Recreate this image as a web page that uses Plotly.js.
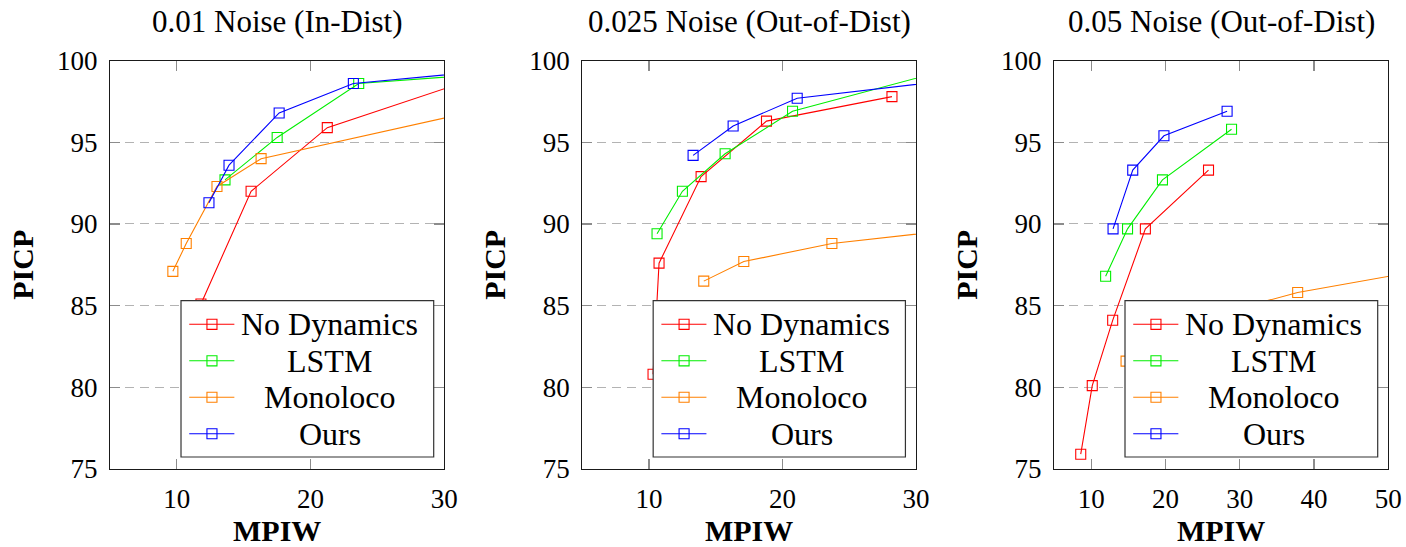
<!DOCTYPE html>
<html>
<head>
<meta charset="utf-8">
<script src="https://cdn.plot.ly/plotly-3.0.1.min.js"></script>
<style>
  html, body { margin: 0; padding: 0; background: #ffffff; }
  #chart { width: 1406px; height: 547px; }
</style>
</head>
<body>
<div id="chart"></div>
<script>
// Panel titles, series names and axis ticks
const panelTitles = ['0.01 Noise (In-Dist)', '0.025 Noise (Out-of-Dist)', '0.05 Noise (Out-of-Dist)'];
const seriesNames = ['No Dynamics', 'LSTM', 'Monoloco', 'Ours'];
const xTicksNarrow = [10, 20, 30];
const xTicksWide = [10, 20, 30, 40, 50];
const yTicks = [75, 80, 85, 90, 95, 100];

// Panel 1: 0.01 noise (MPIW, PICP)
const noDyn1X = [11.8, 15.55, 21.25, 33.0];
const noDyn1Y = [85.1, 92.0, 95.9, 99.1];
const lstm1X = [13.6, 17.5, 23.6, 40.0];
const lstm1Y = [92.7, 95.3, 98.6, 99.6];
const mono1X = [9.7, 10.7, 13.0, 16.3, 40.0];
const mono1Y = [87.1, 88.8, 92.3, 94.0, 98.3];
const ours1X = [12.4, 13.9, 17.65, 23.2, 40.0];
const ours1Y = [91.3, 93.6, 96.8, 98.6, 99.9];

// Panel 2: 0.025 noise
const noDyn2X = [10.3, 10.75, 13.9, 18.8, 28.2];
const noDyn2Y = [80.8, 87.6, 92.9, 96.3, 97.8];
const lstm2X = [10.6, 12.5, 15.7, 20.75, 34.0];
const lstm2Y = [89.4, 92.0, 94.3, 96.9, 99.8];
const mono2X = [14.1, 17.1, 23.7, 40.0];
const mono2Y = [86.5, 87.7, 88.8, 90.3];
const ours2X = [13.3, 16.3, 21.1, 40.0];
const ours2Y = [94.2, 96.0, 97.7, 99.5];

// Panel 3: 0.05 noise
const noDyn3X = [8.6, 10.15, 12.9, 17.3, 25.8];
const noDyn3Y = [75.9, 80.1, 84.1, 89.7, 93.3];
const lstm3X = [11.95, 14.9, 19.6, 28.9];
const lstm3Y = [86.8, 89.7, 92.7, 95.8];
const mono3X = [14.7, 25.5, 37.8, 60.0];
const mono3Y = [81.6, 84.3, 85.8, 87.6];
const ours3X = [12.95, 15.6, 19.8, 28.3];
const ours3Y = [89.7, 93.3, 95.4, 96.9];

const panels = [
  { x: [noDyn1X, lstm1X, mono1X, ours1X], y: [noDyn1Y, lstm1Y, mono1Y, ours1Y], range: [5, 30], ticks: xTicksNarrow },
  { x: [noDyn2X, lstm2X, mono2X, ours2X], y: [noDyn2Y, lstm2Y, mono2Y, ours2Y], range: [5, 30], ticks: xTicksNarrow },
  { x: [noDyn3X, lstm3X, mono3X, ours3X], y: [noDyn3Y, lstm3Y, mono3Y, ours3Y], range: [5, 50], ticks: xTicksWide }
];

const colors = ['#ff0000', '#00ee00', '#ff8000', '#0000ff'];
const serif = '"Liberation Serif", serif';

// Subplot placement (paper fractions)
const xDomains = [[0.07824, 0.31600], [0.41415, 0.65149], [0.74964, 0.98741]];
const yDomain = [0.14278, 0.88903];

// Legend box geometry inside each plot area (axis-domain fractions)
const legendBox = { x0: 0.2124, x1: 0.9683, y0: 0.0292, y1: 0.412 };
const legendRows = [0.3542, 0.2648, 0.1754, 0.0860];
const sampleLine = [0.237, 0.372];
const sampleMarkX = 0.305;
const markHalfW = 0.0150, markHalfH = 0.0123;
const legendTextX = 0.657;

const traces = [];
const shapes = [];
const annotations = [];
const layout = {
  width: 1406, height: 547,
  margin: { l: 0, r: 0, t: 0, b: 0 },
  paper_bgcolor: '#ffffff', plot_bgcolor: '#ffffff',
  showlegend: false,
  font: { family: serif, color: '#000000' }
};

panels.forEach((p, i) => {
  const s = i === 0 ? '' : String(i + 1);
  const xa = 'x' + s, ya = 'y' + s;

  p.x.forEach((xs, k) => {
    traces.push({
      type: 'scatter', mode: 'lines+markers',
      name: seriesNames[k],
      x: xs, y: p.y[k],
      xaxis: xa, yaxis: ya,
      line: { color: colors[k], width: 1.1 },
      marker: { symbol: 'square-open', size: 10, color: colors[k], line: { width: 1.1 } },
      cliponaxis: true,
      hoverinfo: 'x+y+name'
    });
  });

  layout['xaxis' + s] = {
    domain: xDomains[i], anchor: ya,
    range: p.range, tickvals: p.ticks,
    ticks: 'inside', ticklen: 10, tickwidth: 1.2, tickcolor: '#8c8c8c',
    showline: true, linecolor: '#1a1a1a', linewidth: 1.2, mirror: 'ticks',
    showgrid: false, zeroline: false, automargin: false,
    ticklabelstandoff: 6,
    tickfont: { family: serif, size: 27, color: '#000000' },
    title: { text: 'MPIW', standoff: 14, font: { family: serif, size: 30, weight: 'bold', color: '#000000' } }
  };
  layout['yaxis' + s] = {
    domain: yDomain, anchor: xa,
    range: [75, 100], tickvals: yTicks,
    ticks: 'inside', ticklen: 10, tickwidth: 1.2, tickcolor: '#8c8c8c',
    showline: true, linecolor: '#1a1a1a', linewidth: 1.2, mirror: 'ticks',
    showgrid: true, gridcolor: '#b3b3b3', gridwidth: 1, griddash: '9px,6px',
    zeroline: false, automargin: false,
    ticklabelstandoff: 6,
    tickfont: { family: serif, size: 27, color: '#000000' },
    title: { text: 'PICP', standoff: 14, font: { family: serif, size: 30, weight: 'bold', color: '#000000' } }
  };

  // Panel title
  annotations.push({
    text: panelTitles[i], xref: xa + ' domain', yref: 'paper',
    x: 0.5, y: 1 - 21 / 547, xanchor: 'center', yanchor: 'middle',
    showarrow: false, font: { family: serif, size: 31, color: '#000000' }
  });

  // Legend frame
  shapes.push({
    type: 'rect', layer: 'above', xref: xa + ' domain', yref: ya + ' domain',
    x0: legendBox.x0, x1: legendBox.x1, y0: legendBox.y0, y1: legendBox.y1,
    fillcolor: '#ffffff', line: { color: '#333333', width: 1.2 }
  });
  seriesNames.forEach((name, k) => {
    const yr = legendRows[k];
    shapes.push({
      type: 'line', layer: 'above', xref: xa + ' domain', yref: ya + ' domain',
      x0: sampleLine[0], x1: sampleLine[1], y0: yr, y1: yr,
      line: { color: colors[k], width: 1.1 }
    });
    shapes.push({
      type: 'rect', layer: 'above', xref: xa + ' domain', yref: ya + ' domain',
      x0: sampleMarkX - markHalfW, x1: sampleMarkX + markHalfW,
      y0: yr - markHalfH, y1: yr + markHalfH,
      line: { color: colors[k], width: 1.1 }
    });
    annotations.push({
      text: name, xref: xa + ' domain', yref: ya + ' domain',
      x: legendTextX, y: yr, xanchor: 'center', yanchor: 'middle',
      showarrow: false, font: { family: serif, size: 32, color: '#000000' }
    });
  });
});

layout.shapes = shapes;
layout.annotations = annotations;

Plotly.newPlot('chart', traces, layout, { displayModeBar: false, staticPlot: true });
</script>
</body>
</html>
